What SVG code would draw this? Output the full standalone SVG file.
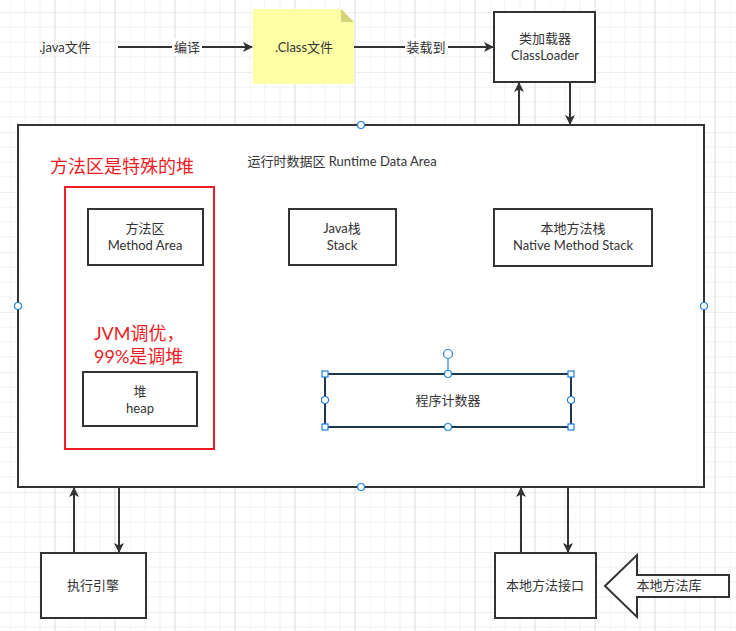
<svg xmlns="http://www.w3.org/2000/svg" width="736" height="631" viewBox="0 0 736 631">
<defs>
<pattern id="grid" x="10" y="12" width="60" height="60" patternUnits="userSpaceOnUse">
<path d="M0 0V60M15 0V60M30 0V60M45 0V60M0 0H60M0 15H60M0 30H60M0 45H60" stroke="#efefef" stroke-width="1" fill="none"/>
<path d="M45 0V60M0 0H60" stroke="#e3e3e3" stroke-width="1" fill="none"/>
</pattern>
<marker id="ah" markerWidth="10" markerHeight="10" refX="9" refY="5" orient="auto" markerUnits="userSpaceOnUse" viewBox="0 0 10 10">
<path d="M0 0L10 5L0 10L2.5 5Z" fill="#333"/>
</marker>
</defs>
<style>
.box{fill:#fff;stroke:#333;stroke-width:2}
.t{font-family:Lato,"Noto Sans CJK SC",sans-serif;font-size:13px;fill:#333;text-anchor:middle}
.r{font-family:Lato,"Noto Sans CJK SC",sans-serif;font-size:18px;fill:#ee1c25}
.c{fill:none;stroke:#333;stroke-width:2}
.h{fill:#fff;stroke:#1e7fe0;stroke-width:1.2}
</style>
<rect width="736" height="631" fill="#fff"/>
<rect width="736" height="631" fill="url(#grid)"/>

<g id="java-file"><text class="t" x="65" y="52">.java文件</text></g>
<g id="class-file">
<path d="M253 9H341L354 22V84H253Z" fill="#ffffa6"/>
<path d="M341 9L354 22H341Z" fill="#d4d47a"/>
<text class="t" x="304" y="52">.Class文件</text>
</g>
<g id="classloader">
<rect class="box" x="494" y="12" width="101" height="70"/>
<text class="t" x="545" y="43">类加载器</text>
<text class="t" x="545" y="60">ClassLoader</text>
</g>
<g id="runtime-data-area">
<rect class="box" x="18" y="125" width="686" height="362"/>
<text class="t" x="342" y="166">运行时数据区 Runtime Data Area</text>
<circle class="h" cx="361" cy="125" r="3.5"/>
<circle class="h" cx="18" cy="306" r="3.5"/>
<circle class="h" cx="704" cy="306" r="3.5"/>
<circle class="h" cx="361" cy="487" r="3.5"/>
</g>
<g id="heap-note">
<text class="r" x="50" y="173">方法区是特殊的堆</text>
<rect x="65" y="187" width="149" height="262" fill="none" stroke="#ee1c25" stroke-width="2"/>
<text class="r" x="94" y="340">JVM调优，</text>
<text class="r" x="94" y="363">99%是调堆</text>
</g>
<g id="method-area">
<rect class="box" x="88" y="209" width="115" height="56"/>
<text class="t" x="145" y="233">方法区</text>
<text class="t" x="145" y="250">Method Area</text>
</g>
<g id="java-stack">
<rect class="box" x="289" y="209" width="107" height="56"/>
<text class="t" x="342" y="233">Java栈</text>
<text class="t" x="342" y="250">Stack</text>
</g>
<g id="native-stack">
<rect class="box" x="494" y="209" width="158" height="57"/>
<text class="t" x="573" y="233">本地方法栈</text>
<text class="t" x="573" y="250">Native Method Stack</text>
</g>
<g id="heap">
<rect class="box" x="83" y="372" width="114" height="54"/>
<text class="t" x="140" y="396">堆</text>
<text class="t" x="140" y="413">heap</text>
</g>
<g id="pc-register">
<rect x="325" y="374" width="246" height="53" fill="#fff" stroke="#1f3550" stroke-width="2"/>
<text class="t" x="448" y="405">程序计数器</text>
<line x1="448" y1="359" x2="448" y2="374" stroke="#1e7fe0" stroke-width="1.2"/>
<circle class="h" cx="448" cy="354" r="4.5"/>
<rect class="h" x="322" y="371" width="6" height="6"/>
<rect class="h" x="568" y="371" width="6" height="6"/>
<rect class="h" x="322" y="424" width="6" height="6"/>
<rect class="h" x="568" y="424" width="6" height="6"/>
<circle class="h" cx="448" cy="374" r="3.5"/>
<circle class="h" cx="448" cy="427" r="3.5"/>
<circle class="h" cx="325" cy="400" r="3.5"/>
<circle class="h" cx="571" cy="400" r="3.5"/>
</g>
<g id="exec-engine">
<rect class="box" x="41" y="553" width="105" height="65"/>
<text class="t" x="93" y="590">执行引擎</text>
</g>
<g id="native-interface">
<rect class="box" x="495" y="553" width="101" height="65"/>
<text class="t" x="545" y="590">本地方法接口</text>
</g>
<g id="native-lib">
<path d="M605 586L637 555V575H729V597H637V617Z" fill="#fff" stroke="#333" stroke-width="2"/>
<text class="t" x="669" y="590">本地方法库</text>
</g>
<g id="connectors">
<line class="c" x1="118" y1="47" x2="252" y2="47" marker-end="url(#ah)"/>
<rect x="172" y="38" width="30" height="18" fill="#fff"/>
<text class="t" x="187" y="52">编译</text>
<line class="c" x1="354" y1="47" x2="493" y2="47" marker-end="url(#ah)"/>
<rect x="405" y="38" width="43" height="18" fill="#fff"/>
<text class="t" x="426" y="52">装载到</text>
<line class="c" x1="519" y1="125" x2="519" y2="83" marker-end="url(#ah)"/>
<line class="c" x1="570" y1="82" x2="570" y2="124" marker-end="url(#ah)"/>
<line class="c" x1="74" y1="553" x2="74" y2="488" marker-end="url(#ah)"/>
<line class="c" x1="119" y1="487" x2="119" y2="552" marker-end="url(#ah)"/>
<line class="c" x1="521" y1="553" x2="521" y2="488" marker-end="url(#ah)"/>
<line class="c" x1="568" y1="487" x2="568" y2="552" marker-end="url(#ah)"/>
</g>
</svg>
